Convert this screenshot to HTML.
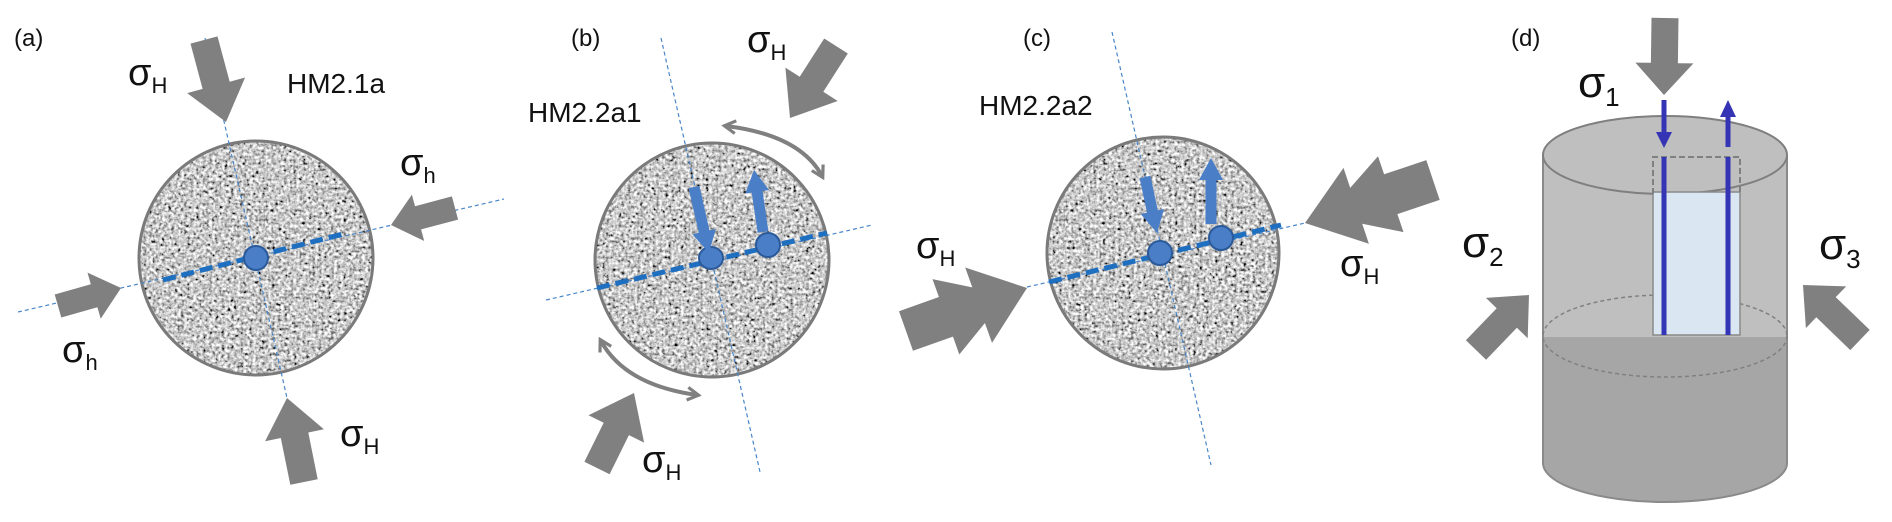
<!DOCTYPE html>
<html><head><meta charset="utf-8">
<style>
html,body{margin:0;padding:0;background:#fff;}
svg{display:block;}
text{font-family:"Liberation Sans",sans-serif;fill:#111;}
.hm{font-family:"Liberation Sans Narrow","Liberation Sans",sans-serif;}
</style></head>
<body>
<svg id="s" width="1892" height="522" viewBox="0 0 1892 522" xmlns="http://www.w3.org/2000/svg">
<defs>
<filter id="noise" x="0" y="0" width="100%" height="100%">
<feTurbulence type="fractalNoise" baseFrequency="0.32" numOctaves="2" seed="3"/>
<feColorMatrix type="matrix" values="0.33 0.33 0.33 0 0  0.33 0.33 0.33 0 0  0.33 0.33 0.33 0 0  0 0 0 0 1"/>
<feComponentTransfer><feFuncR type="linear" slope="3.2" intercept="-1.0"/><feFuncG type="linear" slope="3.2" intercept="-1.0"/><feFuncB type="linear" slope="3.2" intercept="-1.0"/></feComponentTransfer>
</filter>
<clipPath id="ca"><circle cx="256" cy="258" r="117"/></clipPath>
<clipPath id="cb"><circle cx="712" cy="260" r="117"/></clipPath>
<clipPath id="cc"><circle cx="1163" cy="253" r="116"/></clipPath>
<marker id="ch" viewBox="0 0 10 10" refX="7" refY="5" markerWidth="4" markerHeight="4" orient="auto-start-reverse"><path d="M1,1 L8,5 L1,9" fill="none" stroke="#808080" stroke-width="2"/></marker>
</defs>

<rect x="130" y="130" width="260" height="260" filter="url(#noise)" clip-path="url(#ca)"/>
<circle cx="256" cy="258" r="117" fill="none" stroke="#7a7a7a" stroke-width="3"/>
<rect x="590" y="135" width="260" height="260" filter="url(#noise)" clip-path="url(#cb)"/>
<circle cx="712" cy="260" r="117" fill="none" stroke="#7a7a7a" stroke-width="3"/>
<rect x="1040" y="130" width="260" height="260" filter="url(#noise)" clip-path="url(#cc)"/>
<circle cx="1163" cy="253" r="116" fill="none" stroke="#7a7a7a" stroke-width="3"/>

<g stroke="#4a86c8" stroke-width="1.2" stroke-dasharray="4,3" fill="none">
<line x1="205" y1="38" x2="287" y2="398"/>
<line x1="18" y1="312" x2="504" y2="199"/>
<line x1="661" y1="38" x2="760" y2="472"/>
<line x1="546" y1="300" x2="872" y2="225"/>
<line x1="1112" y1="32" x2="1211" y2="465"/>
<line x1="1027" y1="287" x2="1305" y2="223"/>
</g>
<g stroke="#1f6fc0" stroke-width="5" stroke-dasharray="13,6" fill="none">
<line x1="163" y1="280" x2="347" y2="233"/>
<line x1="597" y1="288" x2="827" y2="233"/>
<line x1="1049" y1="282" x2="1281" y2="225"/>
</g>
<g fill="#4a7fc8" stroke="#2a5a9a" stroke-width="2">
<ellipse cx="256" cy="258" rx="12" ry="12"/>
<ellipse cx="711" cy="258" rx="12" ry="11"/>
<ellipse cx="768" cy="245" rx="12" ry="12"/>
<ellipse cx="1160" cy="253" rx="12" ry="12"/>
<ellipse cx="1221" cy="238" rx="12" ry="12"/>
</g>

<g stroke="#808080" stroke-width="4" fill="none" marker-start="url(#ch)" marker-end="url(#ch)">
<path d="M726,126 Q800,135 822,176"/>
<path d="M601,341 Q625,385 697,395"/>
</g>

<rect x="1543" y="155" width="244" height="182" fill="#bfbfbf"/>
<path d="M1543,337 L1787,337 L1787,463 A122,39 0 0 1 1543,463 Z" fill="#a6a6a6"/>
<path d="M1543,155 L1543,463 A122,39 0 0 0 1787,463 L1787,155" fill="none" stroke="#8a8a8a" stroke-width="2"/>
<ellipse cx="1665" cy="155" rx="122" ry="39" fill="#bfbfbf" stroke="#7f7f7f" stroke-width="2"/>
<ellipse cx="1665" cy="336" rx="122" ry="41" fill="none" stroke="#808080" stroke-width="1.5" stroke-dasharray="4,3"/>
<rect x="1653" y="192" width="87" height="143" fill="#dae6f2" stroke="#8a8a8a" stroke-width="1.5"/>
<path d="M1653,194 L1653,157 L1740,157 L1740,194" fill="none" stroke="#808080" stroke-width="2" stroke-dasharray="6,3"/>
<g stroke="#3434b4" stroke-width="5">
<line x1="1664" y1="157" x2="1664" y2="335"/>
<line x1="1728" y1="157" x2="1728" y2="335"/>
<line x1="1664" y1="100" x2="1664" y2="135"/>
<line x1="1728" y1="147" x2="1728" y2="112"/>
</g>
<polygon points="1656,132 1672,132 1664,148" fill="#3434b4"/>
<polygon points="1720,117 1736,117 1728,100" fill="#3434b4"/>

<g id="arrows" fill="#808080"></g>
<g id="barrows" fill="#4a7fc8"></g>

<g font-size="24">
<text x="14" y="46">(a)</text>
<text x="571" y="46">(b)</text>
<text x="1023" y="46">(c)</text>
<text x="1511" y="46">(d)</text>
</g>
<g font-size="28" class="hm">
<text x="287" y="93">HM2.1a</text>
<text x="528" y="122">HM2.2a1</text>
<text x="979" y="115">HM2.2a2</text>
</g>
<g font-size="38">
<text x="128" y="85">σ<tspan font-size="22" dy="8">H</tspan></text>
<text x="400" y="175">σ<tspan font-size="22" dy="8">h</tspan></text>
<text x="62" y="362">σ<tspan font-size="22" dy="8">h</tspan></text>
<text x="340" y="446">σ<tspan font-size="22" dy="8">H</tspan></text>
<text x="747" y="52">σ<tspan font-size="22" dy="8">H</tspan></text>
<text x="642" y="472">σ<tspan font-size="22" dy="8">H</tspan></text>
<text x="916" y="258">σ<tspan font-size="22" dy="8">H</tspan></text>
<text x="1340" y="276">σ<tspan font-size="22" dy="8">H</tspan></text>
</g>
<g font-size="44">
<text x="1578" y="97">σ<tspan font-size="26" dy="9">1</tspan></text>
<text x="1462" y="257">σ<tspan font-size="26" dy="9">2</tspan></text>
<text x="1819" y="259">σ<tspan font-size="26" dy="9">3</tspan></text>
</g>
</svg>
<script>
function arrow(g,tx,ty,cx,cy,w,hw,hl){
 var dx=tx-cx,dy=ty-cy,L=Math.hypot(dx,dy),ux=dx/L,uy=dy/L,nx=-uy,ny=ux;
 var hx=tx-ux*hl,hy=ty-uy*hl;
 var p=[[cx+nx*w/2,cy+ny*w/2],[hx+nx*w/2,hy+ny*w/2],[hx+nx*hw/2,hy+ny*hw/2],[tx,ty],[hx-nx*hw/2,hy-ny*hw/2],[hx-nx*w/2,hy-ny*w/2],[cx-nx*w/2,cy-ny*w/2]];
 add(g,p);
}
function dbl(g,tx,ty,cx,cy,w,hw){
 var dx=tx-cx,dy=ty-cy,L=Math.hypot(dx,dy),ux=dx/L,uy=dy/L,nx=-uy,ny=ux;
 function P(s,o){return [cx+ux*s+nx*o,cy+uy*s+ny*o];}
 var a=L*0.33,b=L*0.6;
 var p=[P(0,w/2),P(a,w/2),P(a,hw/2),P(b,w/2*0.9),P(b,hw/2),P(L,0),P(b,-hw/2),P(b,-w/2*0.9),P(a,-hw/2),P(a,-w/2),P(0,-w/2)];
 add(g,p);
}
function add(g,p){
 var e=document.createElementNS("http://www.w3.org/2000/svg","polygon");
 e.setAttribute("points",p.map(function(q){return q[0].toFixed(1)+","+q[1].toFixed(1);}).join(" "));
 document.getElementById(g).appendChild(e);
}
arrow("arrows",226,122,204,40,28,60,38);
arrow("arrows",287,398,304,482,28,60,38);
arrow("arrows",391,225,455,208,24,48,28);
arrow("arrows",121,288,58,306,24,48,28);
arrow("arrows",790,118,836,46,28,62,40);
arrow("arrows",634,393,597,468,28,62,40);
arrow("arrows",1664,95,1665,18,27,58,32);
arrow("arrows",1529,295,1476,350,28,58,32);
arrow("arrows",1803,285,1860,340,28,58,32);
dbl("arrows",1027,288,906,331,42,80);
dbl("arrows",1305,223,1433,180,42,80);
arrow("barrows",709,253,694,187,11,24,22);
arrow("barrows",754,170,763,232,11,24,22);
arrow("barrows",1157,233,1145,177,11,24,22);
arrow("barrows",1211,158,1211,224,11,24,22);
</script>
</body></html>
